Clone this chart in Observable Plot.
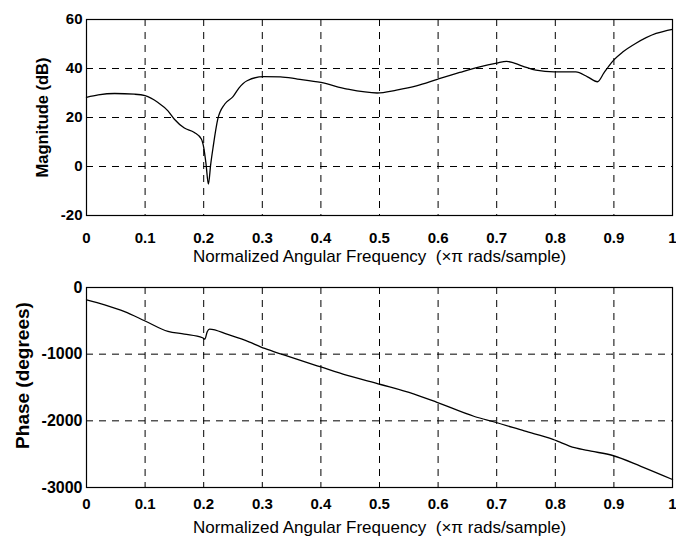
<!DOCTYPE html>
<html>
<head>
<meta charset="utf-8">
<script src="https://cdn.jsdelivr.net/npm/d3@7"></script>
<script src="https://cdn.jsdelivr.net/npm/@observablehq/plot@0.6"></script>
<style>
  html, body { margin: 0; padding: 0; background: #fff; }
  #chart svg { display: block; }
</style>
</head>
<body>
<div id="chart"></div>
<script>
// Magnitude response (dB) vs normalized angular frequency (x pi rad/sample)
const magFreq = [0, 0.02, 0.048, 0.082, 0.1, 0.122, 0.139, 0.15, 0.167, 0.184, 0.196, 0.2, 0.204, 0.208, 0.212, 0.216, 0.224, 0.236, 0.25, 0.26, 0.274, 0.303, 0.331, 0.36, 0.4, 0.445, 0.496, 0.529, 0.563, 0.6, 0.637, 0.671, 0.7, 0.717, 0.744, 0.767, 0.798, 0.835, 0.855, 0.872, 0.883, 0.892, 0.9, 0.915, 0.937, 0.972, 1.0];
const magDb   = [28.2, 29.2, 29.8, 29.5, 28.9, 26.1, 22.7, 19.3, 15.7, 13.9, 11.2, 7.8, 1, -7.2, 1, 7.8, 19.3, 25.5, 28.5, 32, 35, 36.7, 36.6, 35.7, 34.3, 31.6, 30, 31.2, 32.9, 35.7, 38.4, 40.7, 42.2, 42.9, 41, 39.3, 38.6, 38.6, 36.6, 34.6, 38.2, 41.2, 43.5, 46.7, 50.2, 54.3, 56];

// Phase response (degrees)
const phFreq = [0, 0.031, 0.065, 0.1, 0.139, 0.167, 0.198, 0.202, 0.206, 0.21, 0.241, 0.27, 0.304, 0.338, 0.4, 0.445, 0.502, 0.558, 0.598, 0.662, 0.699, 0.747, 0.796, 0.833, 0.861, 0.898, 0.946, 1.0];
const phDeg  = [-185, -261, -362, -502, -658, -698, -754, -774, -663, -623, -703, -789, -914, -1015, -1192, -1318, -1455, -1596, -1722, -1935, -2025, -2152, -2278, -2403, -2454, -2520, -2682, -2880];

const xTicks = [0, 0.1, 0.2, 0.3, 0.4, 0.5, 0.6, 0.7, 0.8, 0.9, 1];
const magTicks = [-20, 0, 20, 40, 60];
const phTicks = [-3000, -2000, -1000, 0];

const xTitle = "Normalized Angular Frequency  (\u00d7\u03c0 rads/sample)";
const magTitle = "Magnitude (dB)";
const phTitle = "Phase (degrees)";

const magData = magFreq.map((f, i) => ({f, v: magDb[i]}));
const phData = phFreq.map((f, i) => ({f, v: phDeg[i]}));

const font = "'Liberation Sans', Arial, Helvetica, sans-serif";
const dash = "7,6";

function panel({data, yDomain, yTicks, height, mt, mb, xPad, titleDy, yLabel, yLabelDx, yLabelDy, yLabelSize, yTickSize}) {
  return Plot.plot({
    width: 676,
    height,
    marginLeft: 86,
    marginRight: 4,
    marginTop: mt,
    marginBottom: mb,
    style: {fontFamily: font, color: "#000", background: "#fff", overflow: "visible"},
    x: {domain: [0, 1]},
    y: {domain: yDomain},
    marks: [
      Plot.gridX(xTicks, {stroke: "#000", strokeOpacity: 1, strokeDasharray: dash, strokeWidth: 1}),
      Plot.gridY(yTicks, {stroke: "#000", strokeOpacity: 1, strokeDasharray: dash, strokeWidth: 1}),
      Plot.frame({stroke: "#000", strokeWidth: 1.2}),
      Plot.axisX(xTicks, {tickSize: 0, tickPadding: xPad, fontSize: 15, fontWeight: "bold", label: null, tickFormat: d => String(d)}),
      Plot.axisY(yTicks, {tickSize: 0, tickPadding: 4, fontSize: yTickSize, fontWeight: "bold", label: null, tickFormat: d => String(d)}),
      Plot.line(data, {x: "f", y: "v", stroke: "#000", strokeWidth: 1.3, curve: "monotone-x"}),
      Plot.text([xTitle], {frameAnchor: "bottom", textAnchor: "middle", dy: titleDy, fontSize: 17, fill: "#000"}),
      Plot.text([yLabel], {frameAnchor: "left", textAnchor: "middle", rotate: -90, dx: yLabelDx, dy: yLabelDy, fontSize: yLabelSize, fontWeight: "bold", fill: "#000"})
    ]
  });
}

const magPlot = panel({data: magData, yDomain: [-20, 60], yTicks: magTicks, height: 270, mt: 19, mb: 55, xPad: 17, titleDy: 46, yLabel: magTitle, yLabelDx: -44, yLabelDy: 0, yLabelSize: 16.5, yTickSize: 15});
const phPlot = panel({data: phData, yDomain: [-3000, 0], yTicks: phTicks, height: 271, mt: 17, mb: 54, xPad: 11, titleDy: 45, yLabel: phTitle, yLabelDx: -64, yLabelDy: -12, yLabelSize: 19, yTickSize: 16});

document.getElementById("chart").append(magPlot, phPlot);
</script>
</body>
</html>
